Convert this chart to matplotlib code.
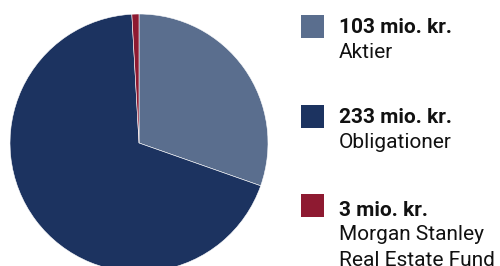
import matplotlib.pyplot as plt
from matplotlib.patches import Rectangle

# data
values = [103, 233, 3]
amounts = ["103 mio. kr.", "233 mio. kr.", "3 mio. kr."]
names = [["Aktier"], ["Obligationer"], ["Morgan Stanley", "Real Estate Fund"]]
colors = ["#5a6e8e", "#1c3360", "#8e1a31"]

plt.rcParams["font.family"] = ["Roboto", "DejaVu Sans"]

W, H = 500, 266
fig = plt.figure(figsize=(W / 100, H / 100), dpi=100)
ax = fig.add_axes([0, 0, 1, 1])
ax.axis("off")

# pie (centre and radius in pixels, partly clipped at bottom)
ax.pie(values, colors=colors, startangle=90, counterclock=False,
       center=(139, H - 143), radius=129,
       wedgeprops=dict(edgecolor="white", linewidth=0.4))
ax.set_xlim(0, W)
ax.set_ylim(0, H)
ax.set_aspect("equal")

# legend (pixel rows measured from the top)
box_top = [15, 105, 194]
amount_base = [33, 123, 216]
for i in range(len(values)):
    ax.add_patch(Rectangle((301, H - box_top[i] - 23), 23, 23,
                           color=colors[i], linewidth=0))
    ax.text(339, H - amount_base[i], amounts[i], fontsize=15,
            fontweight="bold", va="baseline", ha="left", color="#111111")
    for j, line in enumerate(names[i]):
        ax.text(339, H - amount_base[i] - 24.5 - 25.5 * j, line,
                fontsize=15, va="baseline", ha="left", color="#111111")

fig.savefig("out.png", dpi=100)
